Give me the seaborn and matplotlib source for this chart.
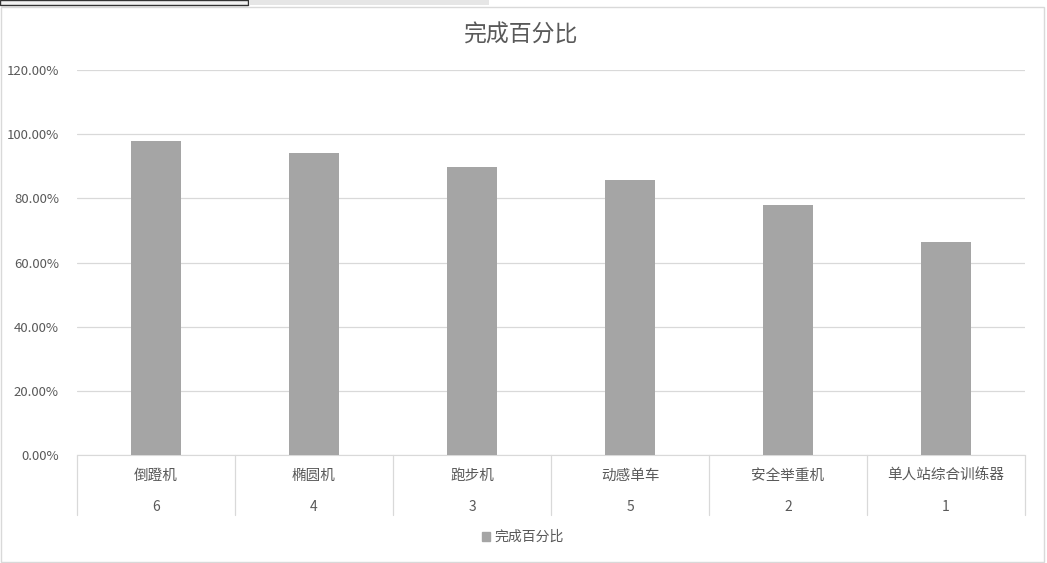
import numpy as np
import matplotlib
matplotlib.use('Agg')
import matplotlib.pyplot as plt
import matplotlib.patches as mpatches
import matplotlib.transforms as mtransforms
import pandas as pd
import seaborn as sns

machines = ['倒蹬机', '椭圆机', '跑步机', '动感单车', '安全举重机', '单人站综合训练器']
ranks = ['6', '4', '3', '5', '2', '1']
completion = [0.980, 0.942, 0.899, 0.858, 0.780, 0.665]
yticks = [0, 0.2, 0.4, 0.6, 0.8, 1.0, 1.2]

sns.set_style('white')
plt.rcParams['font.family'] = ['Noto Sans CJK SC', 'DejaVu Sans']

W, H = 1047, 563
fig = plt.figure(figsize=(W / 100, H / 100), dpi=100)
ax = fig.add_axes([77 / W, (H - 455) / H, (1025 - 77) / W, (455 - 70) / H])

df = pd.DataFrame({'machine': machines, 'value': completion})
sns.barplot(data=df, x='machine', y='value', color='#A5A5A5', saturation=1,
            width=0.315, linewidth=0, ax=ax, zorder=3)

ax.set_ylim(0, 1.2)
ax.set_xlim(-0.5, len(machines) - 0.5)
ax.set_yticks(yticks)
ax.set_yticklabels([f'{v * 100:.2f}%' for v in yticks], color='#595959', fontsize=9.5)
ax.tick_params(axis='y', length=0, pad=13)
ax.yaxis.grid(True, color='#D9D9D9', linewidth=0.9, zorder=0)
for s in ['top', 'right', 'left']:
    ax.spines[s].set_visible(False)
ax.spines['bottom'].set_color('#D9D9D9')
ax.set_xticks([])
ax.set_xlabel('')
ax.set_ylabel('')

# multi-level category axis
trans = mtransforms.blended_transform_factory(ax.transData, ax.transAxes)
ah = 455 - 70
sep = 60 / ah
for i in range(len(machines) + 1):
    ax.plot([i - 0.5, i - 0.5], [0, -sep], transform=trans, color='#D9D9D9',
            linewidth=0.9, clip_on=False)
for i, (m, r) in enumerate(zip(machines, ranks)):
    ax.text(i, -21 / ah, m, transform=trans, ha='center', va='center',
            color='#595959', fontsize=10.5)
    ax.text(i, -52 / ah, r, transform=trans, ha='center', va='center',
            color='#595959', fontsize=10)

fig.text(521 / W, 1 - 35 / H, '完成百分比', ha='center', va='center',
         color='#595959', fontsize=16.5)

handle = mpatches.Patch(color='#A5A5A5', label='完成百分比')
leg = fig.legend(handles=[handle], loc='center', bbox_to_anchor=(523 / W, 1 - 537 / H),
                 frameon=False, fontsize=10, handlelength=0.6, handleheight=0.6,
                 handletextpad=0.3, labelcolor='#595959')

# chart border and sheet remnants
fig.patches.append(mpatches.Rectangle((1 / W, 1 / H), 1043 / W, (H - 8) / H,
                                      transform=fig.transFigure, fill=False,
                                      edgecolor='#D9D9D9', linewidth=1))
fig.patches.append(mpatches.Rectangle((0, 1 - 5 / H), 248 / W, 5 / H,
                                      transform=fig.transFigure, facecolor='#F2F2F2',
                                      edgecolor='#333333', linewidth=1))
fig.patches.append(mpatches.Rectangle((249 / W, 1 - 5 / H), 240 / W, 5 / H,
                                      transform=fig.transFigure, facecolor='#E6E6E6',
                                      edgecolor='none'))

fig.savefig('out.png', dpi=100)
